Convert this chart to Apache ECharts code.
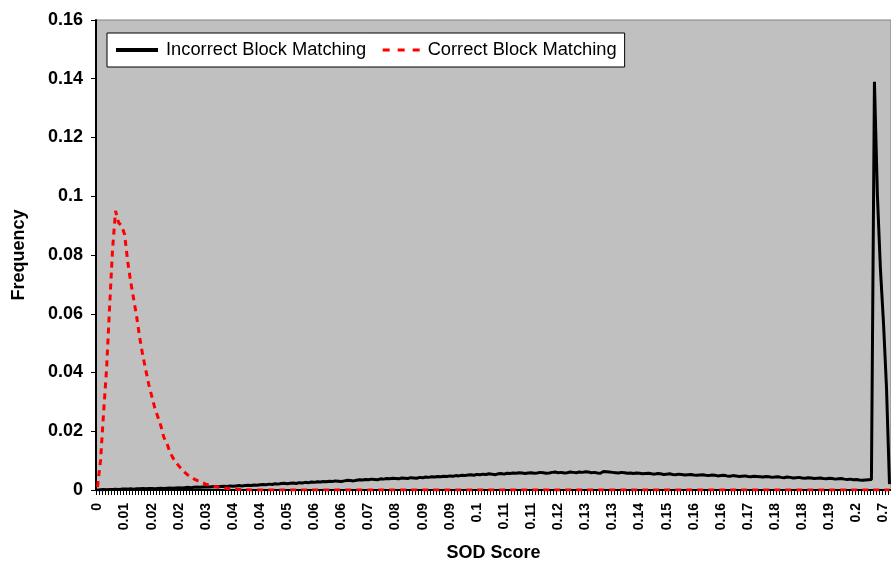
<!DOCTYPE html>
<html>
<head>
<meta charset="utf-8">
<script src="https://cdn.jsdelivr.net/npm/echarts@6/dist/echarts.min.js"></script>
<style>
html,body{margin:0;padding:0;background:#fff;}
#c{width:891px;height:565px;}
</style>
</head>
<body>
<div id="c"></div>
<script>
// Tick labels shown every 9th category (as printed on the original axis)
const tickLabels = ["0","0.01","0.02","0.02","0.03","0.04","0.04","0.05","0.06","0.06","0.07","0.08","0.09","0.09","0.1","0.11","0.11","0.12","0.13","0.13","0.14","0.15","0.16","0.16","0.17","0.18","0.18","0.19","0.2","0.7"];
const labelStep = 9;

const seriesNames = ["Incorrect Block Matching", "Correct Block Matching"];

const incorrect = [
0,0.0001,0.0002,0.0001,0.0002,0.0002,0.0003,0.0002,0.0003,0.0003,
0.0003,0.0004,0.0003,0.0004,0.0004,0.0005,0.0004,0.0005,0.0005,0.0004,
0.0005,0.0006,0.0005,0.0006,0.0007,0.0006,0.0007,0.0008,0.0007,0.0008,
0.0009,0.0008,0.0009,0.001,0.0009,0.001,0.0011,0.001,0.0011,0.0012,
0.0011,0.0012,0.0013,0.0012,0.0014,0.0013,0.0014,0.0015,0.0014,0.0015,
0.0016,0.0015,0.0017,0.0016,0.0018,0.0019,0.0018,0.002,0.0019,0.0021,
0.002,0.0022,0.0023,0.0021,0.0023,0.0024,0.0022,0.0025,0.0024,0.0026,
0.0025,0.0027,0.0026,0.0028,0.0027,0.0029,0.0028,0.003,0.0029,0.0031,
0.003,0.0029,0.0031,0.0033,0.0032,0.0031,0.0033,0.0035,0.0034,0.0036,
0.0035,0.0037,0.0036,0.0035,0.0038,0.0037,0.0039,0.0038,0.004,0.0039,
0.0038,0.0041,0.004,0.0039,0.0042,0.0041,0.004,0.0043,0.0042,0.0044,
0.0043,0.0045,0.0044,0.0046,0.0045,0.0047,0.0046,0.0048,0.0047,0.0049,
0.0048,0.005,0.0049,0.0051,0.0052,0.005,0.0053,0.0052,0.0054,0.0053,
0.0055,0.0054,0.0052,0.0055,0.0056,0.0054,0.0057,0.0056,0.0058,0.0057,
0.0059,0.0058,0.0056,0.0058,0.0059,0.0057,0.0058,0.006,0.0059,0.0057,
0.0058,0.006,0.0061,0.0059,0.006,0.0058,0.0059,0.0061,0.006,0.0059,
0.0061,0.006,0.0062,0.0061,0.0059,0.006,0.0058,0.0057,0.0063,0.0062,
0.0061,0.006,0.0059,0.0058,0.006,0.0059,0.0057,0.0058,0.0056,0.0058,
0.0057,0.0055,0.0056,0.0057,0.0055,0.0054,0.0056,0.0055,0.0053,0.0054,
0.0055,0.0053,0.0052,0.0054,0.0053,0.0051,0.0052,0.0053,0.0051,0.005,
0.0051,0.0052,0.005,0.0049,0.0051,0.005,0.0048,0.0049,0.005,0.0048,
0.0047,0.0049,0.0048,0.0046,0.0047,0.0048,0.0046,0.0045,0.0047,0.0046,
0.0045,0.0044,0.0046,0.0045,0.0043,0.0044,0.0045,0.0043,0.0042,0.0044,
0.0043,0.0041,0.0042,0.0043,0.0041,0.004,0.0042,0.0041,0.0039,0.004,
0.0041,0.0039,0.0038,0.004,0.0039,0.0037,0.0038,0.0039,0.0037,0.0036,
0.0037,0.0035,0.0036,0.0034,0.0033,0.0034,0.0035,0.0036,
0.139,0.1,0.075,0.057,0.035,0.002
];

const correct = [
0.001,0.01,0.026,0.041,0.062,0.082,0.095,0.091,0.09,0.087,
0.078,0.071,0.065,0.059,0.052,0.046,0.041,0.036,0.032,0.028,
0.025,0.022,0.018,0.016,0.013,0.011,0.0095,0.0082,0.0071,0.006,
0.0051,0.0045,0.0038,0.0033,0.0028,0.0024,0.002,0.0017,0.0015,0.0012,
0.001,0.0008,0.0007,0.0005,0.0004,0.0003,0.0003,0.0002,0.0002,0.0001,
0.0001,0,0,0,0,0,0,0,0,0,
0,0,0,0,0,0,0,0,0,0,
0,0,0,0,0,0,0,0,0,0,
0,0,0,0,0,0,0,0,0,0,
0,0,0,0,0,0,0,0,0,0,
0,0,0,0,0,0,0,0,0,0,
0,0,0,0,0,0,0,0,0,0,
0,0,0,0,0,0,0,0,0,0,
0,0,0,0,0,0,0,0,0,0,
0,0,0,0,0,0,0,0,0,0,
0,0,0,0,0,0,0,0,0,0,
0,0,0,0,0,0,0,0,0,0,
0,0,0,0,0,0,0,0,0,0,
0,0,0,0,0,0,0,0,0,0,
0,0,0,0,0,0,0,0,0,0,
0,0,0,0,0,0,0,0,0,0,
0,0,0,0,0,0,0,0,0,0,
0,0,0,0,0,0,0,0,0,0,
0,0,0,0,0,0,0,0,0,0,
0,0,0,0,0,0,0,0,0,0,
0,0,0,0,0,0,0,0,0,0,
0,0,0,0
];

const categories = incorrect.map((_, i) => String(i));
const FONT = '"Liberation Sans", Arial, sans-serif';

const chart = echarts.init(document.getElementById('c'), null, {renderer: 'canvas'});
chart.setOption({
  animation: false,
  backgroundColor: '#ffffff',
  grid: {
    left: 96, top: 20, width: 795, height: 470,
    containLabel: false,
    outerBoundsMode: 'none',
    show: true, backgroundColor: '#C0C0C0', borderColor: '#808080', borderWidth: 1
  },
  legend: {
    show: true,
    orient: 'horizontal',
    left: 107, top: 33,
    padding: [8, 8, 8, 7],
    backgroundColor: '#ffffff', borderColor: '#000000', borderWidth: 1,
    itemWidth: 42, itemHeight: 14, itemGap: 10,
    itemStyle: {opacity: 0},
    textStyle: {fontFamily: FONT, fontSize: 18.3, color: '#000', padding: [0, 0, 0, 3]},
    data: [
      {name: seriesNames[0], itemStyle: {opacity: 0}, lineStyle: {color: '#000', width: 4, type: 'solid'}},
      {name: seriesNames[1], itemStyle: {opacity: 0}, lineStyle: {color: '#ff0000', width: 3, type: [7, 8], dashOffset: 10}}
    ]
  },
  xAxis: {
    type: 'category',
    data: categories,
    boundaryGap: true,
    name: 'SOD Score',
    nameLocation: 'middle',
    nameGap: 54,
    nameTextStyle: {fontFamily: FONT, fontSize: 18, fontWeight: 'bold', color: '#000'},
    axisLine: {lineStyle: {color: '#000', width: 2}},
    axisTick: {show: true, interval: 0, length: 5, lineStyle: {color: '#000', width: 1}},
    axisLabel: {
      interval: labelStep - 1,
      rotate: 90,
      margin: 13,
      fontFamily: FONT, fontSize: 14, fontWeight: 'bold', color: '#000',
      formatter: function (v, idx) { return tickLabels[Math.round(idx / labelStep)]; }
    },
    splitLine: {show: false}
  },
  yAxis: {
    type: 'value',
    min: 0, max: 0.16, interval: 0.02,
    name: 'Frequency',
    nameLocation: 'middle',
    nameGap: 68,
    nameTextStyle: {fontFamily: FONT, fontSize: 18, fontWeight: 'bold', color: '#000'},
    axisLine: {show: true, lineStyle: {color: '#000', width: 2}},
    axisTick: {show: true, length: 5, lineStyle: {color: '#000', width: 1}},
    axisLabel: {margin: 13, fontFamily: FONT, fontSize: 18, fontWeight: 'bold', color: '#000'},
    splitLine: {show: false}
  },
  series: [
    {
      name: seriesNames[0], type: 'line', data: incorrect,
      symbol: 'none', smooth: false,
      lineStyle: {color: '#000', width: 3}, itemStyle: {color: '#000'}
    },
    {
      name: seriesNames[1], type: 'line', data: correct,
      symbol: 'none', smooth: false,
      lineStyle: {color: '#ff0000', width: 3, type: [6, 5]}, itemStyle: {color: '#ff0000'}
    }
  ]
});
</script>
</body>
</html>
